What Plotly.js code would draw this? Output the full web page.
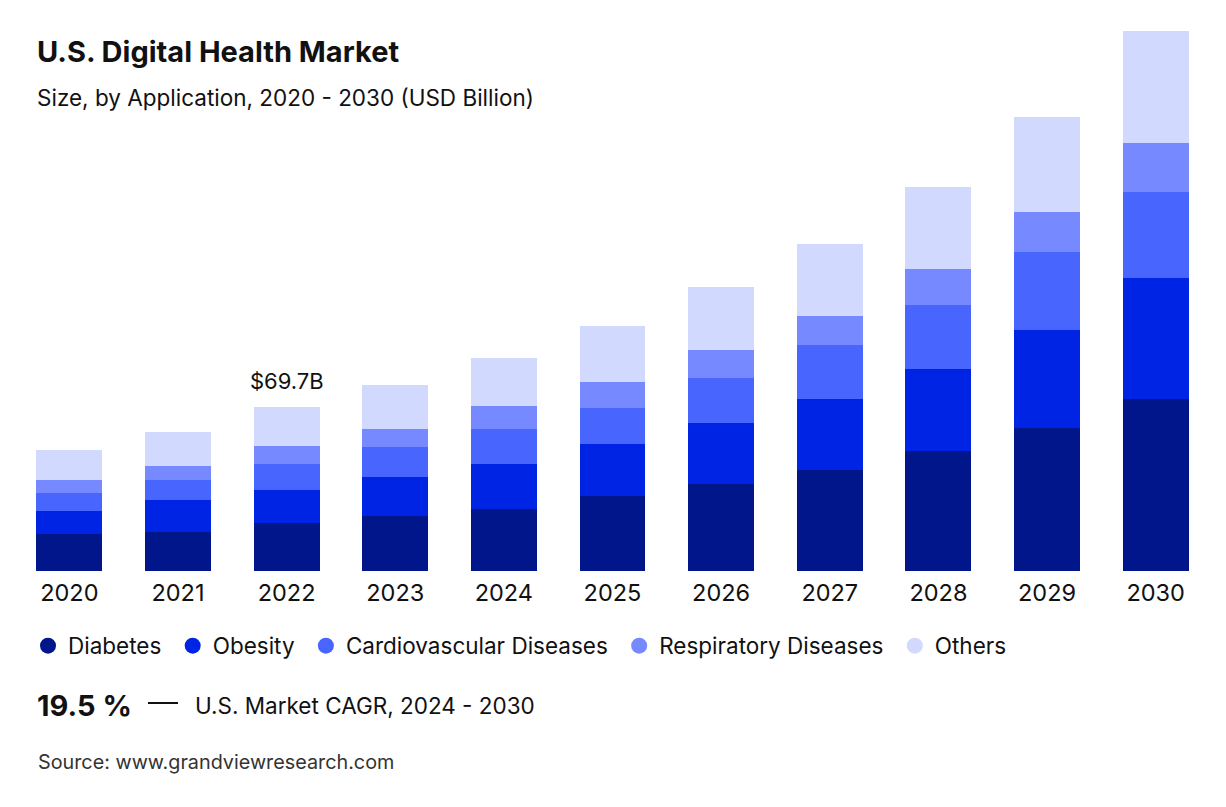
<!DOCTYPE html>
<html>
<head>
<meta charset="utf-8">
<script src="https://cdn.plot.ly/plotly-3.0.1.min.js"></script>
<style>
  html, body { margin: 0; padding: 0; background: #fff; }
  #chart { width: 1226px; height: 807px; }
</style>
</head>
<body>
<div id="chart"></div>
<script>
// Data (USD Billion)
const years = ["2020","2021","2022","2023","2024","2025","2026","2027","2028","2029","2030"];
const diabetes     = [15.6, 16.7, 20.5, 23.4, 26.5, 32.0, 37.0, 43.1, 50.9, 60.8, 73.2];
const obesity      = [10.0, 13.3, 13.8, 16.6, 18.9, 22.1, 26.1, 29.8, 35.1, 41.7, 51.2];
const cardio       = [ 7.7,  8.6, 11.1, 12.5, 14.9, 15.3, 19.1, 23.1, 26.9, 33.3, 36.7];
const respiratory  = [ 5.4,  6.1,  7.8,  7.9,  9.9, 11.1, 11.6, 12.6, 15.4, 17.0, 20.9];
const others       = [12.8, 14.2, 16.5, 18.6, 20.4, 23.8, 26.9, 30.2, 34.9, 40.2, 47.7];
const seriesNames  = ["Diabetes", "Obesity", "Cardiovascular Diseases", "Respiratory Diseases", "Others"];
const highlightYear = "2022";
const highlightLabel = "$69.7B";
const cagrValue = "19.5 %";
const cagrText = "U.S. Market CAGR, 2024 - 2030";

const colors = ["#00168A", "#0024E3", "#4866FE", "#7689FE", "#D1D9FE"];
const FONT = "Inter, 'Noto Sans', sans-serif";
const seriesData = [diabetes, obesity, cardio, respiratory, others];

// plot area in pixels (used to place paper-referenced text)
const PL = 15, PR = 1210, PT = 20, PB = 571;
const px = v => (v - PL) / (PR - PL);
const py = v => (PB - v) / (PB - PT);

const traces = [];
seriesData.forEach((vals, i) => {
  traces.push({
    type: "bar", x: years, y: vals, name: seriesNames[i],
    marker: { color: colors[i], line: { width: 0 } },
    showlegend: false, hoverinfo: "x+y+name"
  });
});
// legend entries with circle markers
seriesNames.forEach((n, i) => {
  traces.push({
    type: "scatter", mode: "markers", x: [null], y: [null], name: n + "&nbsp;",
    marker: { color: colors[i], size: 20, symbol: "circle" },
    showlegend: true, hoverinfo: "skip"
  });
});

const hIdx = years.indexOf(highlightYear);
const hTotal = seriesData.reduce((s, arr) => s + arr[hIdx], 0);

const layout = {
  width: 1226, height: 807,
  paper_bgcolor: "#fff", plot_bgcolor: "#fff",
  barmode: "stack", bargap: 0.393,
  margin: { l: PL, r: 1226 - PR, t: PT, b: 807 - PB },
  font: { family: FONT, color: "#111" },
  xaxis: {
    type: "category", showgrid: false, zeroline: false, showline: false,
    ticks: "", ticklabelstandoff: 5, tickfont: { size: 23.5, color: "#111", family: FONT },
    range: [-0.5, 10.5], fixedrange: true
  },
  yaxis: {
    range: [0, 234.2], showgrid: false, zeroline: false, showline: false,
    showticklabels: false, ticks: "", fixedrange: true
  },
  showlegend: true,
  legend: {
    orientation: "h", x: px(28), xanchor: "left", y: py(646), yanchor: "middle",
    font: { size: 22.5, color: "#111", family: FONT },
    itemsizing: "trace", traceorder: "normal", bgcolor: "rgba(0,0,0,0)",
    itemwidth: 30
  },
  annotations: [
    { xref: "paper", yref: "paper", x: px(35), y: py(52), xanchor: "left", yanchor: "middle",
      text: "<b>U.S. Digital Health Market</b>", showarrow: false,
      font: { size: 29, color: "#111", family: FONT } },
    { xref: "paper", yref: "paper", x: px(35), y: py(98), xanchor: "left", yanchor: "middle",
      text: "Size, by Application, 2020 - 2030 (USD Billion)", showarrow: false,
      font: { size: 22.5, color: "#111", family: FONT } },
    { xref: "x", yref: "y", x: hIdx, y: hTotal, yshift: 26, yanchor: "middle",
      text: highlightLabel, showarrow: false,
      font: { size: 22, color: "#111", family: FONT } },
    { xref: "paper", yref: "paper", x: px(35), y: py(705), xanchor: "left", yanchor: "middle",
      text: "<b>" + cagrValue + "</b>", showarrow: false,
      font: { size: 29, color: "#111", family: FONT } },
    { xref: "paper", yref: "paper", x: px(193), y: py(705), xanchor: "left", yanchor: "middle",
      text: cagrText, showarrow: false,
      font: { size: 22.5, color: "#111", family: FONT } },
    { xref: "paper", yref: "paper", x: px(36), y: py(762), xanchor: "left", yanchor: "middle",
      text: "Source: www.grandviewresearch.com", showarrow: false,
      font: { size: 19.8, color: "#333", family: FONT } }
  ],
  shapes: [
    { type: "line", xref: "paper", yref: "paper",
      x0: px(148), x1: px(178), y0: py(703), y1: py(703),
      line: { color: "#111", width: 2 } }
  ]
};

Plotly.newPlot("chart", traces, layout, { displayModeBar: false, staticPlot: true });
</script>
</body>
</html>
